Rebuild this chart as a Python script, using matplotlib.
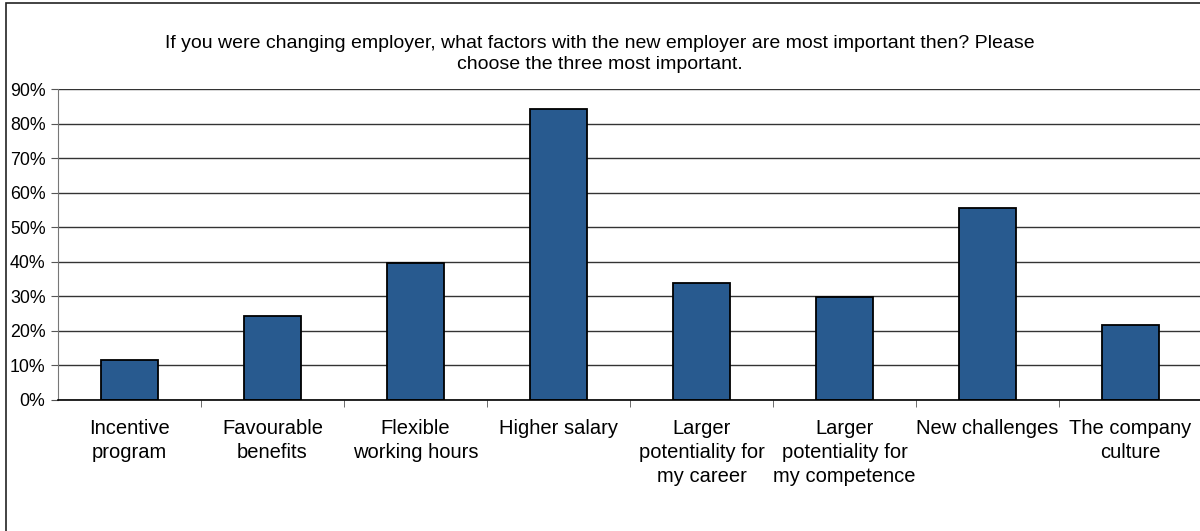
import matplotlib.pyplot as plt
import matplotlib.patches as patches
import numpy as np
from matplotlib.ticker import FixedLocator, PercentFormatter

plt.rcParams['font.family'] = ['Liberation Sans', 'DejaVu Sans']

# Survey answers (share of respondents)
categories = ["Incentive\nprogram", "Favourable\nbenefits", "Flexible\nworking hours",
              "Higher salary", "Larger\npotentiality for\nmy career",
              "Larger\npotentiality for\nmy competence", "New challenges",
              "The company\nculture"]
values = [0.116, 0.244, 0.398, 0.843, 0.340, 0.298, 0.556, 0.217]
y_ticks = [0.0, 0.1, 0.2, 0.3, 0.4, 0.5, 0.6, 0.7, 0.8, 0.9]

title = ("If you were changing employer, what factors with the new employer are most important then? Please\n"
         "choose the three most important.")

fig = plt.figure(figsize=(12, 5.31), dpi=100)
ax = fig.add_axes([58 / 1200, 1 - 400 / 531, 1144 / 1200, (400 - 89.3) / 531])

x = np.arange(len(categories))
ax.bar(x, values, width=0.4, color="#285A8F", edgecolor="black", linewidth=1.3, zorder=3)

ax.set_xlim(-0.5, len(categories) - 0.5)
ax.set_ylim(0, 0.9)
ax.set_yticks(y_ticks)
ax.yaxis.set_major_formatter(PercentFormatter(1.0, decimals=0))
ax.grid(axis="y", color="#333333", linewidth=1.0, zorder=0)

# category labels centred, tick marks on category boundaries
ax.set_xticks(x)
ax.set_xticklabels(categories, fontsize=14.5, linespacing=1.33)
ax.tick_params(axis="x", which="major", length=0, pad=14)
ax.xaxis.set_minor_locator(FixedLocator(np.arange(0.5, len(categories) - 0.5, 1)))
ax.tick_params(axis="x", which="minor", length=5, color="#555555")
ax.tick_params(axis="y", length=5, labelsize=12.8, color="#555555", pad=4)

for s in ["top", "right"]:
    ax.spines[s].set_visible(False)
ax.spines["left"].set_color("#777777")
ax.spines["bottom"].set_color("black")
ax.spines["bottom"].set_linewidth(1.2)
ax.spines["bottom"].set_zorder(4)

fig.text(0.5, 1 - 54 / 531, title, ha="center", va="center", fontsize=14, linespacing=1.25)

# outer chart frame (open on right and bottom)
fig.patches.append(patches.Rectangle((6 / 1200, -0.5), 1.5, 1.5 - 3 / 531, transform=fig.transFigure,
                                     fill=False, edgecolor="#222222", linewidth=1.2))

fig.savefig("out.png", dpi=100)
